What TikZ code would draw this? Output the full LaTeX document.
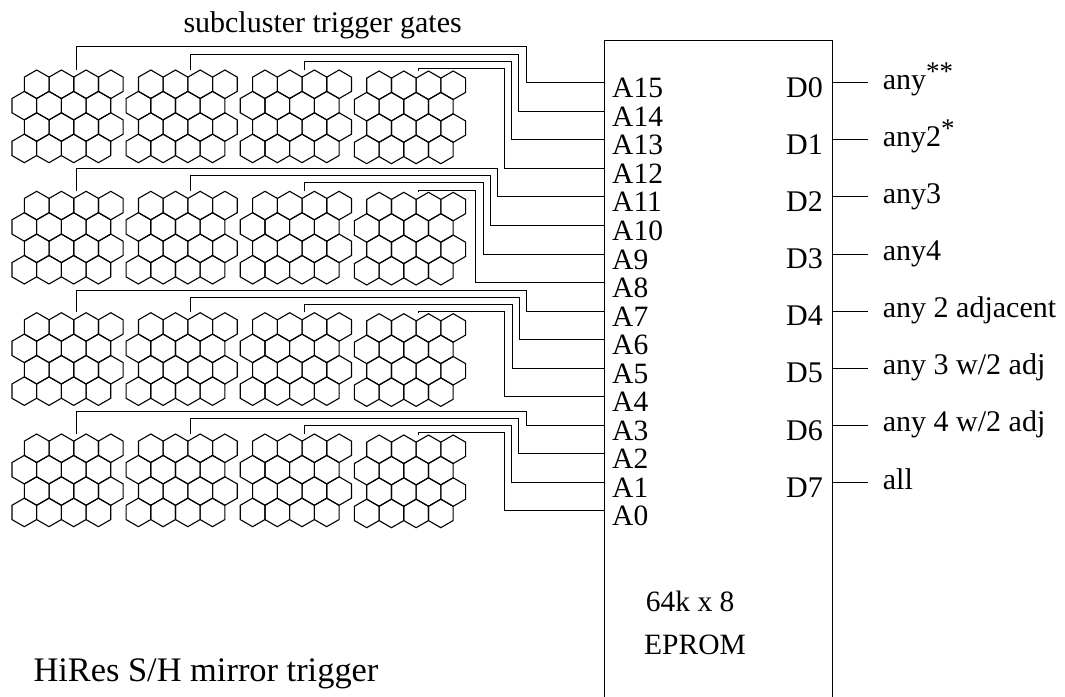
\documentclass[tikz,border=0pt]{standalone}
\usepackage{fontspec}
\setmainfont{Liberation Serif}
\tikzset{
  wire/.style={line width=1pt,black},
  hexline/.style={line width=1.1pt,black,line join=miter},
  lab/.style={inner sep=0pt,anchor=base west,font=\fontsize{29.5}{32}\selectfont},
  outlab/.style={inner sep=0pt,anchor=base west,font=\fontsize{30}{32}\selectfont},
}
\newcommand{\starup}[1]{\raisebox{9pt}{\fontsize{27}{27}\selectfont #1}}
\newcommand{\hexat}[2]{%
  \draw[hexline] (#1,#2-14.26) -- (#1+12.35,#2-7.13) -- (#1+12.35,#2+7.13) -- (#1,#2+14.26) -- (#1-12.35,#2+7.13) -- (#1-12.35,#2-7.13) -- cycle;}
\newcommand{\cluster}[2]{%
  \foreach \i in {0,1,2,3}{%
    \pgfmathsetmacro{\xa}{#1+36.7+24.7*\i}
    \pgfmathsetmacro{\xb}{#1+24.3+24.7*\i}
    \pgfmathsetmacro{\ya}{#2+14.26}
    \pgfmathsetmacro{\yb}{#2+35.65}
    \pgfmathsetmacro{\yc}{#2+57.04}
    \pgfmathsetmacro{\yd}{#2+78.43}
    \hexat{\xa}{\ya}\hexat{\xb}{\yb}\hexat{\xa}{\yc}\hexat{\xb}{\yd}
  }}
\begin{document}
\begin{tikzpicture}[x=1pt,y=-1pt]
\useasboundingbox (0,0) rectangle (1065,696);
% EPROM box
\coordinate (boxBL) at (604.3,700);
\coordinate (boxTL) at (604.3,40);
\coordinate (boxTR) at (832.7,40);
\coordinate (boxBR) at (832.7,700);
\draw[wire] (boxBL) -- (boxTL) -- (boxTR) -- (boxBR);
% clusters
\foreach \ry in {70,191.3,312.7,434}{
  \cluster{0}{\ry}\cluster{114.1}{\ry}\cluster{228.3}{\ry}\cluster{342.4}{\ry+1}
}
% A pins
\foreach \n [count=\k from 0] in {15,14,13,12,11,10,9,8,7,6,5,4,3,2,1,0}{
  \pgfmathsetmacro{\py}{82.7+28.55*\k}
  \coordinate (P\n) at (604.3,\py);
  \node[lab] (A\n) at (612,\py+15) {A\n};
}
% wires
\foreach \sx/\hy/\vx/\pin/\ey in {
  76/46.7/526/15/70, 190/54/518.7/14/70, 304.3/61.7/511.7/13/70, 418.3/68.3/504.3/12/71,
  76/168.3/497.3/11/191, 190/175.3/490.3/10/191, 304.3/182.7/483/9/191, 418.3/190/475.7/8/192,
  76/290/526/7/312, 190/297/519/6/312, 304.3/304.5/512/5/312, 418.3/311/504.3/4/313,
  76/411/526/3/434, 190/418.3/518.7/2/434, 304.3/425.3/511.7/1/434, 418.3/432.3/504.3/0/435}{
  \coordinate (w\pin s) at (\sx,\ey);
  \coordinate (w\pin a) at (\sx,\hy);
  \coordinate (w\pin b) at (\vx,\hy);
  \draw[wire] (w\pin s) -- (w\pin a) -- (w\pin b) -- (w\pin b |- P\pin) -- (P\pin);
}
% D pins
\foreach \k/\t in {0/{any\starup{**}},1/{any2\starup{*}},2/{any3},3/{any4},4/{any 2 adjacent},5/{any 3 w/2 adj},6/{any 4 w/2 adj},7/{all}}{
  \pgfmathsetmacro{\py}{82.7+57.1*\k}
  \node[outlab] (D\k) at (786,\py+14.7) {D\k};
  \coordinate (Q\k) at (832.7,\py);
  \coordinate (R\k) at (868,\py);
  \draw[wire] (Q\k) -- (R\k);
  \node[outlab] (T\k) at (882.7,\py+6.6) {\t};
}
\node[outlab] (title) at (183.3,32.5) {subcluster trigger gates};
\node[lab] (epa) at (645.7,611.7) {64k x 8};
\node[lab] (epb) at (644,654.3) {EPROM};
\node[inner sep=0pt,anchor=base west,font=\fontsize{34.4}{36}\selectfont] (hires) at (33.3,681.7) {HiRes S/H mirror trigger};
\end{tikzpicture}
\end{document}
